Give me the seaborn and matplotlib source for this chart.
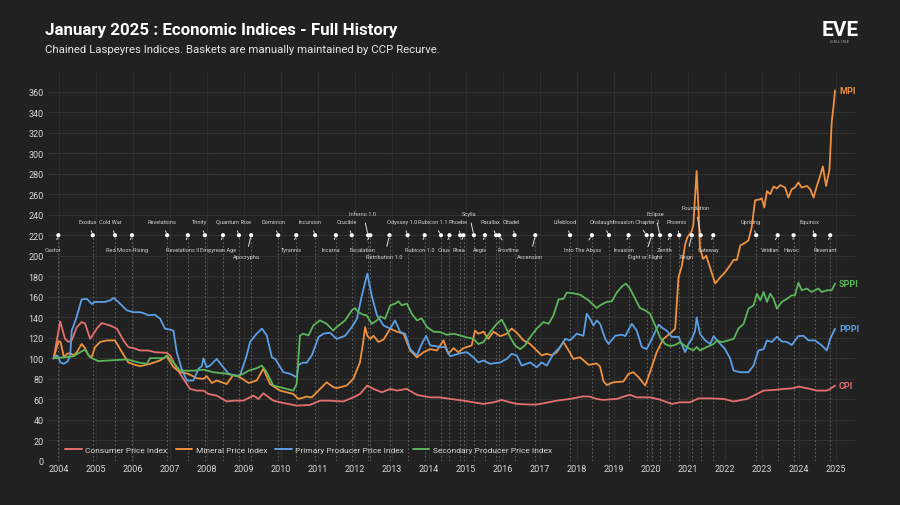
import numpy as np
import pandas as pd
import matplotlib
matplotlib.use("Agg")
import matplotlib.pyplot as plt
from matplotlib import font_manager
import seaborn as sns

# ---------------- data (decimal year, index value) ----------------
cpi_x = [2003.85, 2004.03, 2004.16, 2004.25, 2004.34, 2004.48, 2004.61, 2004.70, 2004.84, 2005.02,
         2005.15, 2005.38, 2005.56, 2005.74, 2005.87, 2006.01, 2006.19, 2006.41, 2006.59, 2006.91,
         2007.02, 2007.18, 2007.36, 2007.54, 2007.72, 2007.90, 2008.04, 2008.26, 2008.53, 2008.71,
         2008.98, 2009.25, 2009.39, 2009.52, 2009.79, 2010.06, 2010.42, 2010.78, 2011.05, 2011.32,
         2011.68, 2011.95, 2012.13, 2012.33, 2012.50, 2012.72, 2012.95, 2013.13, 2013.40, 2013.67,
         2014.03, 2014.30, 2014.57, 2014.93, 2015.20, 2015.47, 2015.74, 2015.96, 2016.10, 2016.37,
         2016.73, 2016.91, 2017.09, 2017.45, 2017.81, 2018.17, 2018.35, 2018.53, 2018.71, 2019.07,
         2019.34, 2019.43, 2019.61, 2019.97, 2020.24, 2020.56, 2020.78, 2021.05, 2021.28, 2021.60,
         2021.96, 2022.23, 2022.59, 2022.86, 2023.04, 2023.31, 2023.58, 2023.85, 2023.98, 2024.21,
         2024.48, 2024.75, 2024.84, 2024.97]
cpi_y = [100, 136, 119, 116, 117.5, 130.5, 135.4, 134, 119, 129,
         134.4, 132, 129, 117.5, 111, 110, 107.7, 107.7, 106, 105.4,
         102, 90, 80, 70.2, 68.6, 68.6, 65.3, 63.7, 58, 58.8,
         58.8, 63.7, 60.5, 66, 58.8, 56.5, 54, 54.6, 58.8, 58.8,
         58, 62, 65.3, 73.5, 70.2, 67, 70.2, 68.6, 70.2, 64.4,
         62, 62, 60.5, 58.8, 57.2, 55.6, 57.2, 59.5, 58, 55.6,
         55, 55, 56.2, 58.8, 60.5, 63, 62.7, 60.5, 59.5, 60.5,
         63.7, 64.4, 62, 62, 59.8, 55.6, 57.2, 57.2, 61, 61,
         60.5, 58, 60.5, 65.3, 68.6, 69.2, 70.2, 70.9, 72.5, 70.9,
         68.6, 68.6, 70.2, 73.5]

mpi_x = [2003.85, 2003.98, 2004.04, 2004.13, 2004.21, 2004.30, 2004.39, 2004.48, 2004.61, 2004.70,
         2004.79, 2004.88, 2004.97, 2005.11, 2005.29, 2005.51, 2005.65, 2005.87, 2006.05, 2006.19,
         2006.46, 2006.73, 2006.91, 2007.09, 2007.27, 2007.49, 2007.72, 2007.90, 2007.99, 2008.13,
         2008.26, 2008.53, 2008.71, 2008.89, 2009.12, 2009.34, 2009.52, 2009.70, 2009.97, 2010.33,
         2010.47, 2010.69, 2010.83, 2011.01, 2011.23, 2011.41, 2011.50, 2011.77, 2011.95, 2012.13,
         2012.22, 2012.27, 2012.33, 2012.41, 2012.50, 2012.63, 2012.77, 2012.95, 2013.13, 2013.31,
         2013.49, 2013.67, 2013.85, 2014.03, 2014.21, 2014.39, 2014.52, 2014.66, 2014.79, 2014.93,
         2015.15, 2015.24, 2015.33, 2015.47, 2015.60, 2015.74, 2015.92, 2016.10, 2016.23, 2016.37,
         2016.55, 2016.73, 2016.91, 2017.04, 2017.18, 2017.32, 2017.45, 2017.63, 2017.77, 2017.90,
         2018.08, 2018.31, 2018.53, 2018.62, 2018.71, 2018.80, 2018.98, 2019.25, 2019.39, 2019.52,
         2019.66, 2019.84, 2019.97, 2020.15, 2020.33, 2020.51, 2020.65, 2020.74, 2020.83, 2020.92,
         2020.98, 2021.10, 2021.14, 2021.21, 2021.23, 2021.28, 2021.32, 2021.41, 2021.49, 2021.58,
         2021.73, 2021.87, 2022.00, 2022.14, 2022.23, 2022.32, 2022.41, 2022.54, 2022.63, 2022.72,
         2022.81, 2022.95, 2022.99, 2023.06, 2023.13, 2023.22, 2023.31, 2023.40, 2023.49, 2023.62,
         2023.71, 2023.80, 2023.89, 2023.98, 2024.07, 2024.21, 2024.30, 2024.39, 2024.48, 2024.57,
         2024.64, 2024.73, 2024.82, 2024.88, 2024.93, 2024.97]
mpi_y = [100, 116.5, 116, 101, 104.4, 105, 103, 106, 114, 110,
         103, 101, 111, 116, 117.5, 117.5, 109, 96, 93.7, 92.4,
         94.7, 98, 102, 91.4, 86.5, 85, 80.7, 80, 82.6, 76,
         78.4, 75, 84, 81.6, 76, 78.4, 90, 75, 68.6, 65.3,
         60.5, 62.7, 62, 68.6, 76.7, 72, 71, 73.5, 80, 96,
         116, 130.5, 122, 119, 122, 116, 118.4, 129, 126, 124,
         107.7, 101, 106, 109, 107.7, 117.5, 104.4, 110, 106, 110,
         112.6, 127, 124, 126, 119, 126, 121.6, 124, 129, 125,
         117.5, 114, 107.7, 103, 104.4, 103, 106, 116, 107.7, 99.5,
         101, 93.7, 95, 92, 78, 74, 76.7, 77.4, 85, 86.5,
         81.6, 73.5, 86.5, 106, 119, 124, 129, 179, 190, 211,
         218, 224, 230, 271, 282.5, 245.8, 206.8, 197, 200, 190,
         173, 179, 184, 191, 196, 196, 210, 212.6, 215, 228,
         254, 255, 256, 247, 263, 260, 267.5, 265.5, 268.8, 266.5,
         256.7, 264.8, 266.5, 271.4, 266.5, 268, 264.8, 256.7, 268, 278,
         287, 268, 284, 330, 346, 361]

pppi_x = [2003.85, 2003.94, 2004.04, 2004.13, 2004.23, 2004.30, 2004.34, 2004.46, 2004.61, 2004.75,
          2004.88, 2004.97, 2005.24, 2005.38, 2005.47, 2005.60, 2005.83, 2006.01, 2006.19, 2006.32,
          2006.41, 2006.59, 2006.73, 2006.86, 2007.00, 2007.09, 2007.18, 2007.31, 2007.45, 2007.63,
          2007.77, 2007.86, 2007.90, 2007.99, 2008.08, 2008.26, 2008.40, 2008.58, 2008.76, 2008.89,
          2009.07, 2009.16, 2009.34, 2009.48, 2009.61, 2009.75, 2009.84, 2010.06, 2010.24, 2010.42,
          2010.47, 2010.60, 2010.69, 2010.83, 2011.01, 2011.14, 2011.32, 2011.50, 2011.73, 2011.91,
          2012.05, 2012.18, 2012.33, 2012.45, 2012.59, 2012.77, 2012.95, 2013.08, 2013.22, 2013.35,
          2013.49, 2013.67, 2013.80, 2013.92, 2014.03, 2014.16, 2014.30, 2014.43, 2014.57, 2014.84,
          2015.02, 2015.20, 2015.33, 2015.47, 2015.65, 2015.92, 2016.10, 2016.23, 2016.37, 2016.50,
          2016.73, 2016.91, 2017.04, 2017.18, 2017.36, 2017.54, 2017.68, 2017.81, 2017.99, 2018.17,
          2018.26, 2018.35, 2018.44, 2018.53, 2018.62, 2018.76, 2018.85, 2019.03, 2019.21, 2019.30,
          2019.48, 2019.61, 2019.75, 2019.88, 2020.06, 2020.20, 2020.33, 2020.42, 2020.56, 2020.74,
          2020.92, 2021.01, 2021.10, 2021.19, 2021.23, 2021.32, 2021.46, 2021.60, 2021.69, 2021.82,
          2022.00, 2022.14, 2022.23, 2022.41, 2022.63, 2022.77, 2022.90, 2023.04, 2023.13, 2023.26,
          2023.40, 2023.53, 2023.67, 2023.80, 2023.98, 2024.12, 2024.25, 2024.43, 2024.61, 2024.75,
          2024.84, 2024.97]
pppi_y = [100, 103, 96, 94.7, 97, 103, 127, 138.6, 157.5, 158,
          153, 155, 155, 156.5, 159, 155, 146.8, 145, 145, 143.5,
          142, 142.5, 138.6, 129, 128, 127, 106, 90, 78.4, 78.4,
          90, 92.4, 100, 91.4, 93, 99.5, 93, 85, 83.3, 83.3,
          103, 116, 124, 129, 122.6, 101, 99.5, 86.5, 85, 81.6,
          93.7, 96, 95.6, 103, 120.7, 124, 125, 119, 122, 130.5,
          138.6, 161, 182.6, 161, 142, 132, 129, 137, 125.6, 124,
          109, 102.8, 114, 122, 112.6, 112, 111, 111, 102, 105,
          106, 101, 96, 98, 94.7, 96, 99.5, 104.4, 102.8, 93,
          96, 91.4, 96, 93, 104.4, 111, 119, 117.5, 124, 122,
          143.5, 138.6, 132, 137, 133.7, 119, 114, 122, 123, 121.7,
          133.7, 127, 111, 109, 122, 132.8, 129, 127, 121, 121,
          106, 114, 119, 127, 140, 124, 117.5, 114, 121.7, 116,
          109, 99.5, 88, 86.5, 86.5, 93, 107.7, 109, 117.5, 116,
          121, 116.5, 116, 113, 121.7, 122, 117.5, 117.5, 112.6, 107.7,
          119, 128.8]

sppi_x = [2003.85, 2004.12, 2004.39, 2004.57, 2004.70, 2004.84, 2005.06, 2005.38, 2005.83, 2006.19,
          2006.37, 2006.46, 2006.82, 2006.91, 2007.09, 2007.27, 2007.63, 2007.90, 2008.17, 2008.53,
          2008.80, 2008.98, 2009.12, 2009.34, 2009.48, 2009.61, 2009.79, 2009.97, 2010.15, 2010.33,
          2010.42, 2010.51, 2010.60, 2010.74, 2010.87, 2011.05, 2011.23, 2011.41, 2011.50, 2011.73,
          2011.91, 2012.00, 2012.09, 2012.22, 2012.31, 2012.45, 2012.59, 2012.68, 2012.81, 2012.95,
          2013.08, 2013.17, 2013.26, 2013.40, 2013.53, 2013.67, 2013.80, 2013.94, 2014.12, 2014.30,
          2014.48, 2014.66, 2014.84, 2014.99, 2015.20, 2015.33, 2015.47, 2015.65, 2015.83, 2015.96,
          2016.05, 2016.19, 2016.32, 2016.46, 2016.59, 2016.73, 2016.91, 2017.09, 2017.23, 2017.36,
          2017.50, 2017.63, 2017.72, 2017.90, 2018.08, 2018.31, 2018.53, 2018.62, 2018.80, 2018.94,
          2019.07, 2019.21, 2019.32, 2019.43, 2019.57, 2019.70, 2019.84, 2019.97, 2020.11, 2020.24,
          2020.38, 2020.51, 2020.65, 2020.78, 2020.96, 2021.14, 2021.23, 2021.32, 2021.50, 2021.69,
          2021.78, 2021.91, 2022.09, 2022.23, 2022.36, 2022.50, 2022.63, 2022.77, 2022.86, 2022.95,
          2023.04, 2023.13, 2023.22, 2023.31, 2023.40, 2023.53, 2023.67, 2023.80, 2023.89, 2023.98,
          2024.07, 2024.21, 2024.34, 2024.52, 2024.61, 2024.75, 2024.88, 2024.97]
sppi_y = [100, 101, 102, 106, 108.7, 101, 97.3, 98, 99, 95.6,
          94.7, 100.2, 100.2, 102.8, 96, 88, 88, 89, 86.5, 85,
          82.6, 85, 88, 90.4, 93, 86.5, 73.5, 72, 70.2, 68.6,
          75, 122.4, 124, 122.4, 132, 137, 133.7, 127, 130.5, 137,
          146.8, 149, 145, 142.5, 142, 133.7, 137, 141, 138.6, 151.7,
          153.3, 155.6, 151.7, 153.3, 143.5, 137, 139, 130.5, 126, 125.6,
          123, 124, 122.4, 120.7, 119, 114, 115.8, 125.6, 133.7, 137.7,
          132, 120.7, 112.6, 109, 112.6, 120.7, 129, 135.4, 133.7, 142,
          157.5, 158, 164, 163.4, 162, 156.5, 149, 151.7, 155, 155.6,
          164, 170, 172.8, 168, 158, 149, 146.8, 143.5, 132, 120.7,
          114, 112, 113, 115.8, 111, 107.7, 111, 107.7, 111, 114,
          117.5, 115.8, 117.5, 119, 129, 133.7, 148.4, 151.7, 163, 156.5,
          164.7, 155, 163, 158, 148.4, 155, 158, 161.4, 161.4, 173.8,
          166.3, 168, 164.7, 168, 164.7, 166.3, 166.3, 172.8]

series_names = ["Consumer Price Index", "Mineral Price Index",
                "Primary Producer Price Index", "Secondary Producer Price Index"]
series_short = ["CPI", "MPI", "PPPI", "SPPI"]
series_colors = ["#e3706d", "#ef9240", "#5b9fe6", "#5bb55a"]

expansions = ["Castor", "Exodus", "Cold War", "Red Moon Rising", "Revelations", "Revelations II",
              "Trinity", "Empyrean Age", "Quantum Rise", "Apocrypha", "Dominion", "Tyrannis",
              "Incursion", "Incarna", "Crucible", "Inferno 1.0", "Escalation", "Retribution 1.0",
              "Odyssey 1.0", "Rubicon 1.0", "Rubicon 1.1", "Crius", "Phoebe", "Rhea", "Scylla",
              "Aegis", "Parallax", "Frostline", "Citadel", "Ascension", "Lifeblood",
              "Into The Abyss", "Onslaught", "Invasion", "Invasion Chapter 2", "Fight or Flight",
              "Eclipse", "Zenith", "Phoenix", "Reign", "Foundation", "Gateway", "Uprising",
              "Viridian", "Havoc", "Equinox", "Revenant"]
expansion_dates = [2003.98, 2004.91, 2005.51, 2005.97, 2006.92, 2007.48, 2007.94, 2008.43, 2008.86,
                   2009.19, 2009.92, 2010.41, 2010.92, 2011.48, 2011.91, 2012.35, 2012.41, 2012.93,
                   2013.42, 2013.88, 2014.32, 2014.55, 2014.84, 2014.93, 2015.21, 2015.51, 2015.81,
                   2015.89, 2016.31, 2016.87, 2017.81, 2018.40, 2018.86, 2019.39, 2019.88, 2020.02,
                   2020.24, 2020.51, 2020.76, 2021.10, 2021.34, 2021.68, 2022.84, 2023.42, 2023.85,
                   2024.42, 2024.84]
# label placement tier (layout): + above, - below
label_tier = [-1, 1, 1, -1, 1, -1, 1, -1, 1, -2, 1, -1, 1, -1, 1, 2, -1, -2, 1, -1, 1, -1, 1, -1, 2,
              -1, 1, -1, 1, -2, 1, -1, 1, -1, 1, -2, 2, -1, 1, -2, 3, -1, 1, -1, -1, 1, -1]
label_dx = {"Escalation": -8, "Frostline": 9, "Invasion Chapter 2": -10, "Into The Abyss": -9,
            "Fight or Flight": -7, "Rubicon 1.1": -8, "Phoebe": -2, "Viridian": -7, "Havoc": -2,
            "Parallax": -6, "Citadel": -3, "Onslaught": -7, "Phoenix": -3}
EXP_LEVEL = 220

year_ticks = list(range(2004, 2026))

# ---------------- build long-form frame ----------------
frames = []
for name, xs, ys in zip(series_names, [cpi_x, mpi_x, pppi_x, sppi_x], [cpi_y, mpi_y, pppi_y, sppi_y]):
    frames.append(pd.DataFrame({"date": xs, "value": ys, "Index": name}))
df = pd.concat(frames, ignore_index=True)

# ---------------- style ----------------
BG = "#212121"
sns.set_theme(style="dark")
names = {f.name for f in font_manager.fontManager.ttflist}
base_font = "Roboto" if "Roboto" in names else "DejaVu Sans"
plt.rcParams["font.family"] = [base_font, "DejaVu Sans"]
plt.rcParams["axes.facecolor"] = BG
plt.rcParams["figure.facecolor"] = BG

fig = plt.figure(figsize=(9, 5.06), dpi=100)
ax = fig.add_axes([48 / 900, 1 - 462 / 506, (855 - 48) / 900, (462 - 72) / 506])
ax.set_facecolor(BG)

# grid
for v in range(0, 380, 20):
    ax.axhline(v, color="#323232", lw=0.8, zorder=0)
for yr in year_ticks:
    ax.axvline(yr, color="#2e2e2e", lw=0.8, zorder=0)

# expansion dotted lines
ax.vlines(expansion_dates, 0, EXP_LEVEL, colors="#5e5e5e", linestyles=(0, (1.5, 2.0)), lw=0.8, zorder=1)

palette = dict(zip(series_names, series_colors))
sns.lineplot(data=df, x="date", y="value", hue="Index", palette=palette, hue_order=series_names,
             estimator=None, sort=False, lw=1.3, ax=ax, zorder=3)

# expansion markers and labels
ax.scatter(expansion_dates, [EXP_LEVEL] * len(expansion_dates), s=9, color="white", zorder=5,
           edgecolors="none")
tier_dy = {1: 14, 2: 22, 3: 28, -1: -14, -2: -21}
for name, d, t in zip(expansions, expansion_dates, label_tier):
    dx = label_dx.get(name, -5)
    dy = tier_dy[t]
    ax.annotate(name, xy=(d, EXP_LEVEL), xytext=(dx, dy), textcoords="offset pixels",
                ha="center", va="center", fontsize=4.1, color="#d0d0d0",
                arrowprops=dict(arrowstyle="-", color="#e0e0e0", lw=0.7, shrinkA=3, shrinkB=2),
                zorder=6)

# end labels
for short, xs, ys, c in zip(series_short, [cpi_x, mpi_x, pppi_x, sppi_x], [cpi_y, mpi_y, pppi_y, sppi_y],
                            series_colors):
    ax.annotate(short, xy=(xs[-1], ys[-1]), xytext=(4, 0), textcoords="offset pixels",
                ha="left", va="center", fontsize=6.5, fontweight="bold", color=c)

ax.set_xlim(2003.70, 2025.51)
ax.set_ylim(0, 380)
ax.set_xticks(year_ticks)
ax.set_xticklabels([str(y) for y in year_ticks])
ax.set_yticks(list(range(0, 380, 20)))
ax.tick_params(axis="both", length=0, colors="#d8d8d8", labelsize=6.5)
ax.tick_params(axis="x", pad=2)
ax.tick_params(axis="y", pad=3)
ax.set_xlabel("")
ax.set_ylabel("")
for s in ax.spines.values():
    s.set_visible(False)
ax.grid(False)

handles, labels = ax.get_legend_handles_labels()
leg = ax.legend(handles, labels, loc="lower left", bbox_to_anchor=(0.012, 0.002), ncol=4, frameon=False,
                fontsize=6, handlelength=2.0, handletextpad=0.4, columnspacing=1.0, labelcolor="#d8d8d8")
for h in leg.get_lines():
    h.set_linewidth(1.4)

# titles
fig.text(45 / 900, 1 - 30 / 506, "January 2025 : Economic Indices - Full History", ha="left", va="center",
         fontsize=12.2, fontweight="bold", color="white")
fig.text(45 / 900, 1 - 50 / 506, "Chained Laspeyres Indices. Baskets are manually maintained by CCP Recurve.",
         ha="left", va="center", fontsize=8.2, color="#e6e6e6")
fig.text(840 / 900, 1 - 31 / 506, "EVE", ha="center", va="center", fontsize=15, fontweight="bold",
         color="white")
fig.text(840 / 900, 1 - 42 / 506, "O N L I N E", ha="center", va="center", fontsize=2.8, color="#cccccc")

fig.savefig("out.png", dpi=100, facecolor=BG)
